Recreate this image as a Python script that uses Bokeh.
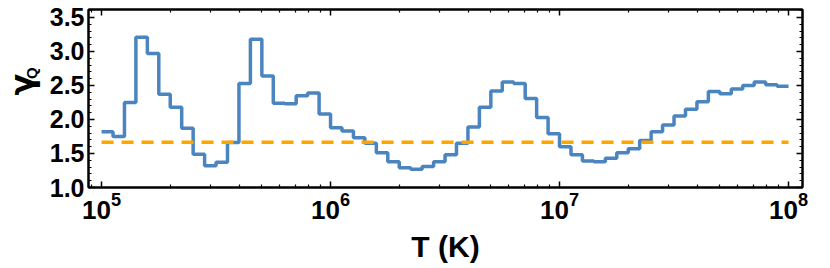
import numpy as np
from bokeh.plotting import figure
from bokeh.layouts import row
from bokeh.models import (LogAxis, LinearAxis, FixedTicker, Range1d, Label,
                          PrintfTickFormatter, CustomJSTickFormatter)
from bokeh.embed import file_html
from bokeh.resources import INLINE

# ---- data ----
log_T_edges = np.round(np.arange(5.0, 8.0001, 0.05), 2)   # 0.05 dex bins, 10^5 .. 10^8
gamma_Q = [1.82, 1.75, 2.25, 3.21, 2.97, 2.37, 2.18, 1.87, 1.49, 1.32,
           1.37, 1.66, 2.53, 3.18, 2.64, 2.24, 2.23, 2.35, 2.39, 2.08,
           1.88, 1.83, 1.73, 1.65, 1.51, 1.38, 1.29, 1.27, 1.31, 1.38,
           1.48, 1.65, 1.89, 2.18, 2.42, 2.55, 2.53, 2.31, 2.03, 1.79,
           1.60, 1.48, 1.39, 1.38, 1.43, 1.51, 1.57, 1.69, 1.82, 1.92,
           2.05, 2.15, 2.26, 2.41, 2.38, 2.45, 2.50, 2.55, 2.51, 2.49]
gamma_ad = 5.0 / 3.0
T_ref = [1e5, 1e8]
x_major = [1e5, 1e6, 1e7, 1e8]
x_minor = [m * 10.0 ** k for k in range(4, 9) for m in range(2, 10)]
y_major = [1.0, 1.5, 2.0, 2.5, 3.0, 3.5]
y_minor = [round(1.0 + 0.1 * i, 1) for i in range(27)]

T_edges = 10.0 ** log_T_edges
step_y = gamma_Q + [gamma_Q[-1]]

FONT = "Liberation Sans"
W, H = 830, 268
LAB_W = 46

# ---- narrow strip that carries the rotated y-axis title "γ_Q" ----
lab = figure(width=LAB_W, height=H, x_range=Range1d(0, LAB_W), y_range=Range1d(0, H),
             output_backend="svg", toolbar_location=None, min_border=0,
             x_axis_location=None, y_axis_location=None)
lab.outline_line_color = None
lab.grid.visible = False
lab.add_layout(Label(x=21, y=H - 113, text="γ", angle=np.pi / 2,
                     text_align="center", text_baseline="middle",
                     text_font="DejaVu Sans", text_font_style="bold",
                     text_font_size="32px", text_color="black"))
lab.add_layout(Label(x=31, y=H - 96, text="Q", angle=np.pi / 2,
                     text_align="center", text_baseline="middle",
                     text_font=FONT, text_font_style="bold",
                     text_font_size="15px", text_color="black"))

# ---- main plot ----
p = figure(width=W - LAB_W, height=H, x_axis_type="log",
           x_range=Range1d(10 ** 4.943, 10 ** 8.061),
           y_range=Range1d(1.0, 3.617),
           output_backend="svg", toolbar_location=None,
           min_border_left=88 - LAB_W, min_border_right=28, min_border_top=9,
           min_border_bottom=81)
p.grid.visible = False
p.outline_line_color = "black"
p.outline_line_width = 2

def style_axis(ax, labels=True, size="24px"):
    ax.axis_line_color = "black"
    ax.axis_line_width = 2
    ax.major_tick_in = 6
    ax.major_tick_out = 0
    ax.minor_tick_in = 3
    ax.minor_tick_out = 0
    ax.major_tick_line_color = "black"
    ax.major_tick_line_width = 1.5
    ax.minor_tick_line_color = "black"
    ax.minor_tick_line_width = 1.2
    if labels:
        ax.major_label_text_font = FONT
        ax.major_label_text_font_style = "bold"
        ax.major_label_text_font_size = size
        ax.major_label_text_color = "black"
    else:
        ax.major_label_text_font_size = "0px"
        ax.major_label_standoff = 0
        ax.formatter = CustomJSTickFormatter(code="return ''")

xa = p.xaxis[0]
xa.ticker = FixedTicker(ticks=x_major, minor_ticks=x_minor)
style_axis(xa, size="26px")
xa.major_label_standoff = 4
xa.axis_label = "T (K)"
xa.axis_label_text_font = FONT
xa.axis_label_text_font_style = "bold"
xa.axis_label_text_font_size = "30px"
xa.axis_label_text_color = "black"
xa.axis_label_standoff = 8

ya = p.yaxis[0]
ya.ticker = FixedTicker(ticks=y_major, minor_ticks=y_minor)
ya.formatter = PrintfTickFormatter(format="%.1f")
style_axis(ya, size="25px")
ya.major_label_standoff = 4

top = LogAxis(ticker=FixedTicker(ticks=x_major, minor_ticks=x_minor))
style_axis(top, labels=False)
p.add_layout(top, "above")
right = LinearAxis(ticker=FixedTicker(ticks=y_major, minor_ticks=y_minor))
style_axis(right, labels=False)
p.add_layout(right, "right")

p.step(T_edges, step_y, mode="after", line_color="#4A85BF", line_width=3.5)
p.line(T_ref, [gamma_ad, gamma_ad], line_color="#FFA500", line_width=3.5,
       line_dash="12 8")

layout = row(lab, p)
open("out.html", "w").write(file_html(layout, INLINE))
